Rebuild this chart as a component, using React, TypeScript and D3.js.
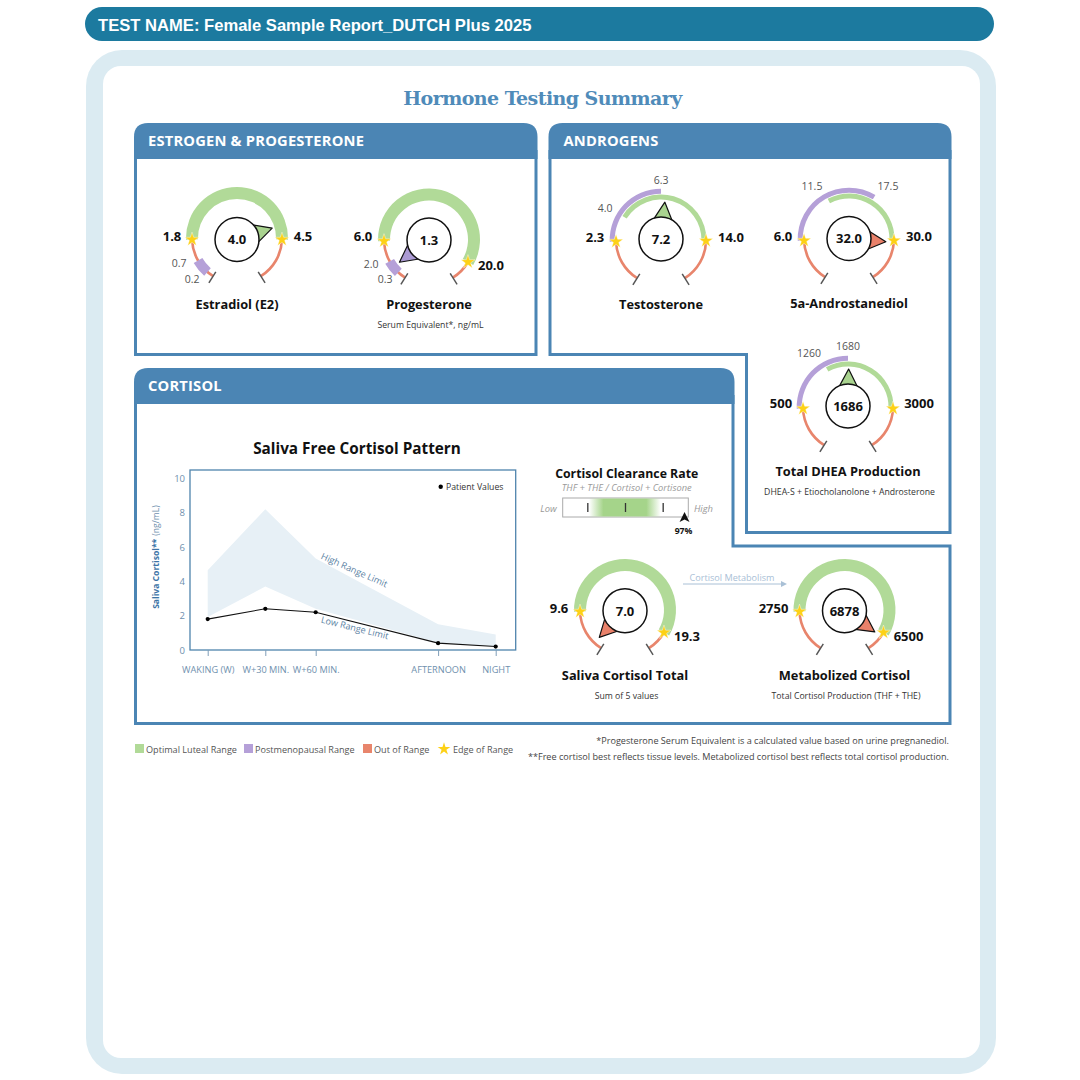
import React, { useEffect, useRef } from "react";
import * as d3 from "d3";

// ---------- data ----------
const sampleLabels = ["WAKING (W)", "W+30 MIN.", "W+60 MIN.", "AFTERNOON", "NIGHT"];
const sampleSlots = [0, 1, 1.875, 4, 5];
const highLimit = [4.65, 8.2, 5.33, 1.5, 0.9];
const lowLimit = [1.92, 3.7, 2.4, 0.42, 0.2];
const patientValues = [1.8, 2.4, 2.2, 0.4, 0.2];
const yTicks = [0, 2, 4, 6, 8, 10];

const legendItems = ["Optimal Luteal Range", "Postmenopausal Range", "Out of Range", "Edge of Range"];
const clearanceTicks = [20, 50, 80];
const clearanceValue = 97;

type Gauge = {
  name: string; sub?: string; value: number; status: "ok" | "post" | "out";
  low: number; high: number; lowText: string; highText: string;
  postLow?: number; postHigh?: number; postLowText?: string; postHighText?: string;
  dial: number[];
};
const gauges: Gauge[] = [
  { name: "Estradiol (E2)", value: 4.0, status: "ok", low: 1.8, high: 4.5, lowText: "1.8", highText: "4.5", postLow: 0.2, postHigh: 0.7, postLowText: "0.2", postHighText: "0.7", dial: [0.2, 0.7, 1.8, 4.0, 4.5] },
  { name: "Progesterone", sub: "Serum Equivalent*, ng/mL", value: 1.3, status: "post", low: 6.0, high: 20.0, lowText: "6.0", highText: "20.0", postLow: 0.3, postHigh: 2.0, postLowText: "0.3", postHighText: "2.0", dial: [0.3, 1.3, 2.0, 6.0, 20.0] },
  { name: "Testosterone", value: 7.2, status: "ok", low: 4.0, high: 14.0, lowText: "2.3", highText: "14.0", postLow: 2.3, postHigh: 6.3, postLowText: "4.0", postHighText: "6.3", dial: [2.3, 4.0, 6.3, 7.2, 14.0] },
  { name: "5a-Androstanediol", value: 32.0, status: "out", low: 11.5, high: 30.0, lowText: "6.0", highText: "30.0", postLow: 6.0, postHigh: 17.5, postLowText: "11.5", postHighText: "17.5", dial: [6.0, 11.5, 17.5, 30.0, 32.0] },
  { name: "Total DHEA Production", sub: "DHEA-S + Etiocholanolone + Androsterone", value: 1686, status: "ok", low: 1260, high: 3000, lowText: "500", highText: "3000", postLow: 500, postHigh: 1680, postLowText: "1260", postHighText: "1680", dial: [500, 1260, 1680, 1686, 3000] },
  { name: "Saliva Cortisol Total", sub: "Sum of 5 values", value: 7.0, status: "out", low: 9.6, high: 19.3, lowText: "9.6", highText: "19.3", dial: [7.0, 9.6, 19.3] },
  { name: "Metabolized Cortisol", sub: "Total Cortisol Production (THF + THE)", value: 6878, status: "out", low: 2750, high: 6500, lowText: "2750", highText: "6500", dial: [2750, 6500, 6878] },
];

// ---------- layout (one entry per gauge) ----------
const dialAngles = [
  [-139, -120, -92, 72, 92],
  [-137, -127, -119, -92, 120],
  [-92, -58, 0, 6, 91],
  [-92, -28, 31, 92, 95],
  [-92, -29, 0, 1, 92],
  [-136, -92, 120],
  [-92, 120, 125],
];
const layouts = [
  { cx: 237, cy: 238, cyc: 239.5, titleY: 309, thin: false, lowL: [-65, 3], highL: [66, 3], pLowL: [-45, 45], pHighL: [-58, 29] },
  { cx: 429, cy: 239.5, cyc: 240, titleY: 309, thin: false, lowL: [-66, 1.5], highL: [62, 30], pLowL: [-44, 43.5], pHighL: [-58, 28.5] },
  { cx: 661, cy: 240, cyc: 239, titleY: 309, thin: true, lowL: [-66, 1.5], highL: [70, 1.5], pLowL: [-56, -28], pHighL: [0, -56.5] },
  { cx: 849, cy: 239, cyc: 238.5, titleY: 308, thin: true, lowL: [-66, 1.5], highL: [70, 1.5], pLowL: [-37, -49], pHighL: [39, -49] },
  { cx: 848, cy: 407, cyc: 406, titleY: 476, thin: true, lowL: [-67, 1], highL: [71, 1], pLowL: [-39, -50], pHighL: [0, -57] },
  { cx: 625, cy: 610, cyc: 610.7, titleY: 680, thin: false, lowL: [-66, 2.5], highL: [62, 31], pLowL: [0, 0], pHighL: [0, 0] },
  { cx: 844.5, cy: 610, cyc: 610.7, titleY: 680, thin: false, lowL: [-71, 2.5], highL: [64, 31], pLowL: [0, 0], pHighL: [0, 0] },
];

const FONT = "'Open Sans', sans-serif";
const BLUE = "#4b85b4";
const GREEN = "#b1da98";
const PURPLE = "#b5a0d8";
const RED = "#e8856c";
const YELLOW = "#fdd116";
const pointerFill = { ok: "#a9d38f", post: "#ab9ad3", out: "#e9816a" };
const END = 148;
const rad = (d: number) => (d * Math.PI) / 180;
const arc = d3.arc<any>();
const starPath = (size: number) => d3.symbol(d3.symbolStar, size)() as string;

function GaugeDial({ g, l, angles }: { g: Gauge; l: (typeof layouts)[0]; angles: number[] }) {
  const scale = d3.scaleLinear().domain(g.dial).range(angles);
  const band = (a: number, b: number, r0: number, r1: number) =>
    arc({ innerRadius: r0, outerRadius: r1, startAngle: rad(a), endAngle: rad(b) }) as string;
  const pol = (a: number, r: number, cy = 0) => [r * Math.sin(rad(a)), cy - r * Math.cos(rad(a))];
  const dyc = l.cyc - l.cy;
  const hasPost = g.postLow !== undefined;
  const lowEdge = l.thin ? g.postLow! : g.low;
  const lowA = scale(lowEdge);
  const highA = scale(g.high);
  const vA = scale(g.value);
  const tip = pol(vA, 37, dyc);
  const b1 = pol(vA - 25, 21.5, dyc);
  const b2 = pol(vA + 25, 21.5, dyc);
  const sLow = pol(lowA, 45);
  const sHigh = pol(highA, 45);
  return (
    <g transform={`translate(${l.cx},${l.cy})`} fontFamily={FONT}>
      <path d={band(-END, lowA, 43.7, 46.3)} fill={RED} />
      <path d={band(highA, END, 43.7, 46.3)} fill={RED} />
      {[-END, END].map((a) => {
        const p0 = pol(a, 40), p1 = pol(a, 53);
        return <line key={a} x1={p0[0]} y1={p0[1]} x2={p1[0]} y2={p1[1]} stroke="#555" strokeWidth={1.5} />;
      })}
      {l.thin ? (
        <>
          <path d={band(scale(g.postLow!), scale(g.postHigh!), 46.3, 51.3)} fill={PURPLE} />
          <path d={band(scale(g.low), highA, 40.5, 45.5)} fill={GREEN} />
        </>
      ) : (
        <>
          <path d={band(scale(g.low), highA, 39, 51)} fill={GREEN} />
          {hasPost && <path d={band(scale(g.postLow!), scale(g.postHigh!), 40, 50)} fill={PURPLE} />}
        </>
      )}
      <path d={`M${tip[0]},${tip[1]}L${b1[0]},${b1[1]}L${b2[0]},${b2[1]}Z`} fill={pointerFill[g.status]} stroke="#111" strokeWidth={1.2} strokeLinejoin="round" />
      <circle cy={dyc} r={22} fill="#fff" stroke="#111" strokeWidth={1.5} />
      <text y={dyc + 4.8} textAnchor="middle" fontSize={13} fontWeight={700} fill="#111">{g.value >= 100 ? g.value : g.value.toFixed(1)}</text>
      <path d={starPath(62)} transform={`translate(${sLow[0]},${sLow[1]})`} fill={YELLOW} stroke="#fff" strokeWidth={0.4} />
      <path d={starPath(62)} transform={`translate(${sHigh[0]},${sHigh[1]})`} fill={YELLOW} stroke="#fff" strokeWidth={0.4} />
      <text x={l.lowL[0]} y={l.lowL[1]} textAnchor="middle" fontSize={13} fontWeight={700} fill="#111">{g.lowText}</text>
      <text x={l.highL[0]} y={l.highL[1]} textAnchor="middle" fontSize={13} fontWeight={700} fill="#111">{g.highText}</text>
      {g.postLowText && (
        <>
          <text x={l.pLowL[0]} y={l.pLowL[1]} textAnchor="middle" fontSize={10.5} fill="#555">{g.postLowText}</text>
          <text x={l.pHighL[0]} y={l.pHighL[1]} textAnchor="middle" fontSize={10.5} fill="#555">{g.postHighText}</text>
        </>
      )}
      <text y={l.titleY - l.cy} textAnchor="middle" fontSize={12.8} fontWeight={700} fill="#111">{g.name}</text>
      {g.sub && <text x={1.5} y={l.titleY - l.cy + 19} textAnchor="middle" fontSize={8.7} fill="#333">{g.sub}</text>}
    </g>
  );
}

function CortisolChart() {
  const x = d3.scaleLinear().domain([0, 5]).range([207.7, 495.7]);
  const y = d3.scaleLinear().domain([0, 10]).range([650, 478.3]);
  const xRef = useRef<SVGGElement>(null);
  const yRef = useRef<SVGGElement>(null);
  useEffect(() => {
    const byLabel = d3.scaleOrdinal<string, number>().domain(sampleLabels).range(sampleSlots.map((s) => x(s)));
    const ax = d3.axisBottom(byLabel as any).tickSize(6).tickPadding(10);
    const gx = d3.select(xRef.current!).call(ax as any);
    gx.select(".domain").remove();
    gx.selectAll("line").attr("stroke", "#7f9db8");
    gx.selectAll("text").attr("font-size", 9.2).attr("font-family", FONT).attr("fill", "#6f90ae");
    const ay = d3.axisLeft(y).tickValues(yTicks).tickSize(0).tickPadding(5);
    const gy = d3.select(yRef.current!).call(ay as any);
    gy.select(".domain").remove();
    gy.selectAll("text").attr("font-size", 9.5).attr("font-family", FONT).attr("fill", "#6f90ae");
  }, []);
  const bandPath = d3.area<number>()
    .x((_, i) => x(sampleSlots[i]))
    .y0((_, i) => y(lowLimit[i]))
    .y1((d) => y(d))(highLimit) as string;
  const linePath = d3.line<number>()
    .x((_, i) => x(sampleSlots[i]))
    .y((d) => y(d))(patientValues) as string;
  return (
    <g fontFamily={FONT}>
      <text x={357} y={454} textAnchor="middle" fontSize={15.3} fontWeight={700} fill="#111">Saliva Free Cortisol Pattern</text>
      <path d={bandPath} fill="#e7f0f6" />
      <rect x={190} y={470} width={325.7} height={180} fill="none" stroke="#4f84ad" strokeWidth={1.3} />
      <g ref={xRef} transform="translate(0,650)" />
      <g ref={yRef} transform="translate(190,0)" />
      <path d={linePath} fill="none" stroke="#111" strokeWidth={1.1} />
      {patientValues.map((v, i) => (
        <circle key={i} cx={x(sampleSlots[i])} cy={y(v)} r={2.1} fill="#000" />
      ))}
      <circle cx={440.7} cy={486.7} r={2.2} fill="#000" />
      <text x={446} y={490} fontSize={8.7} fill="#333">Patient Values</text>
      <text transform="translate(353,573) rotate(24)" textAnchor="middle" fontSize={9.1} fill="#5b82a3">High Range Limit</text>
      <text transform="translate(354,631) rotate(14)" textAnchor="middle" fontSize={9.1} fill="#5b82a3">Low Range Limit</text>
      <text transform="translate(159,557) rotate(-90)" textAnchor="middle" fontSize={8.6} fill="#3d74a6">
        <tspan fontWeight={700}>Saliva Cortisol**</tspan>
        <tspan dx={3} fill="#6f90ae">(ng/mL)</tspan>
      </text>
    </g>
  );
}

function Clearance() {
  const x = d3.scaleLinear().domain([0, 100]).range([562.7, 688.3]);
  const cx = x(clearanceValue);
  return (
    <g fontFamily={FONT}>
      <defs>
        <linearGradient id="clr" x1="0" x2="1" y1="0" y2="0">
          <stop offset="0" stopColor="#a5d48a" stopOpacity={0} />
          <stop offset="0.2" stopColor="#a5d48a" />
          <stop offset="0.8" stopColor="#a5d48a" />
          <stop offset="1" stopColor="#a5d48a" stopOpacity={0} />
        </linearGradient>
      </defs>
      <text x={626.7} y={478.3} textAnchor="middle" fontSize={12.3} fontWeight={700} fill="#111">Cortisol Clearance Rate</text>
      <text x={626.7} y={490.5} textAnchor="middle" fontSize={9.3} fontStyle="italic" fill="#9a9a9a">THF + THE / Cortisol + Cortisone</text>
      <rect x={x(0)} y={498} width={x(100) - x(0)} height={19} fill="#fff" stroke="#aaa" strokeWidth={1} />
      <rect x={x(21)} y={498.5} width={x(78) - x(21)} height={18} fill="url(#clr)" />
      {clearanceTicks.map((t) => (
        <line key={t} x1={x(t)} x2={x(t)} y1={503} y2={512} stroke="#333" strokeWidth={1.3} />
      ))}
      <path d={`M${cx},512 L${cx + 5},522 L${cx},519.5 L${cx - 5},522 Z`} fill="#111" />
      <text x={cx - 1} y={534} textAnchor="middle" fontSize={8.7} fontWeight={700} fill="#111">{clearanceValue}%</text>
      <text x={548.5} y={511.5} textAnchor="middle" fontSize={9.4} fontStyle="italic" fill="#999">Low</text>
      <text x={703.5} y={511.5} textAnchor="middle" fontSize={9.4} fontStyle="italic" fill="#999">High</text>
    </g>
  );
}

function Panels() {
  const head = (x0: number, x1: number, y0: number, y1: number) =>
    `M${x0},${y1}V${y0 + 14}Q${x0},${y0} ${x0 + 14},${y0}H${x1 - 14}Q${x1},${y0} ${x1},${y0 + 14}V${y1}Z`;
  const headText = (t: string, x: number, y: number) => (
    <text x={x} y={y} fontFamily={FONT} fontSize={14.7} fontWeight={700} fill="#fff" letterSpacing={0.2}>{t}</text>
  );
  const st = { fill: "none", stroke: BLUE, strokeWidth: 3 } as const;
  return (
    <g>
      <path d="M135.5,150V354.5H536V150" {...st} />
      <path d="M550,150V354.5H746.5V532.5H950V150" {...st} />
      <path d="M135.5,395V723.5H950V546H733V395" {...st} />
      <path d={head(134, 537.5, 123, 159)} fill={BLUE} />
      <path d={head(548.5, 951.5, 123, 159)} fill={BLUE} />
      <path d={head(134, 734.5, 368, 404)} fill={BLUE} />
      {headText("ESTROGEN & PROGESTERONE", 148, 146)}
      {headText("ANDROGENS", 563.5, 146)}
      {headText("CORTISOL", 148, 391)}
    </g>
  );
}

function Legend() {
  const xs = [135, 244, 363];
  const cols = [GREEN, PURPLE, RED];
  const tx = [146, 255, 374, 453];
  return (
    <g fontFamily={FONT} fontSize={9.1} fill="#555">
      {cols.map((c, i) => <rect key={c} x={xs[i]} y={744} width={9} height={9} fill={c} />)}
      <path d={starPath(50)} transform="translate(444,749)" fill={YELLOW} />
      {legendItems.map((t, i) => <text key={t} x={tx[i]} y={752.5}>{t}</text>)}
      <text x={949} y={744} textAnchor="end" fontSize={9.1} fill="#444">*Progesterone Serum Equivalent is a calculated value based on urine pregnanediol.</text>
      <text x={949} y={760} textAnchor="end" fontSize={9.1} fill="#444">**Free cortisol best reflects tissue levels. Metabolized cortisol best reflects total cortisol production.</text>
    </g>
  );
}

export default function App() {
  return (
    <svg width={1080} height={1080} viewBox="0 0 1080 1080" style={{ position: "absolute", left: 0, top: 0, background: "#fff" }}>
      <rect x={85} y={7} width={909} height={34} rx={17} fill="#1c7a9f" />
      <text x={98} y={30.5} fontFamily="'Liberation Sans', Arial, sans-serif" fontWeight={700} fontSize={16.6} fill="#fff">TEST NAME: Female Sample Report_DUTCH Plus 2025</text>
      <rect x={86} y={50} width={910} height={1024} rx={36} fill="#dbebf2" />
      <rect x={103} y={66} width={877} height={992} rx={18} fill="#fff" />
      <text x={542.5} y={105} textAnchor="middle" fontFamily="'DejaVu Serif', serif" fontWeight={700} fontSize={19} letterSpacing={-0.56} fill="#4f8bb9">Hormone Testing Summary</text>
      <Panels />
      {gauges.map((g, i) => <GaugeDial key={g.name} g={g} l={layouts[i]} angles={dialAngles[i]} />)}
      <CortisolChart />
      <Clearance />
      <g fontFamily={FONT}>
        <text x={732} y={581} textAnchor="middle" fontSize={9.1} fill="#a9c0d6">Cortisol Metabolism</text>
        <line x1={683} y1={584} x2={782} y2={584} stroke="#a9c0d6" strokeWidth={1} />
        <path d="M787,584 L781,581 L781,587 Z" fill="#a9c0d6" />
      </g>
      <Legend />
    </svg>
  );
}
